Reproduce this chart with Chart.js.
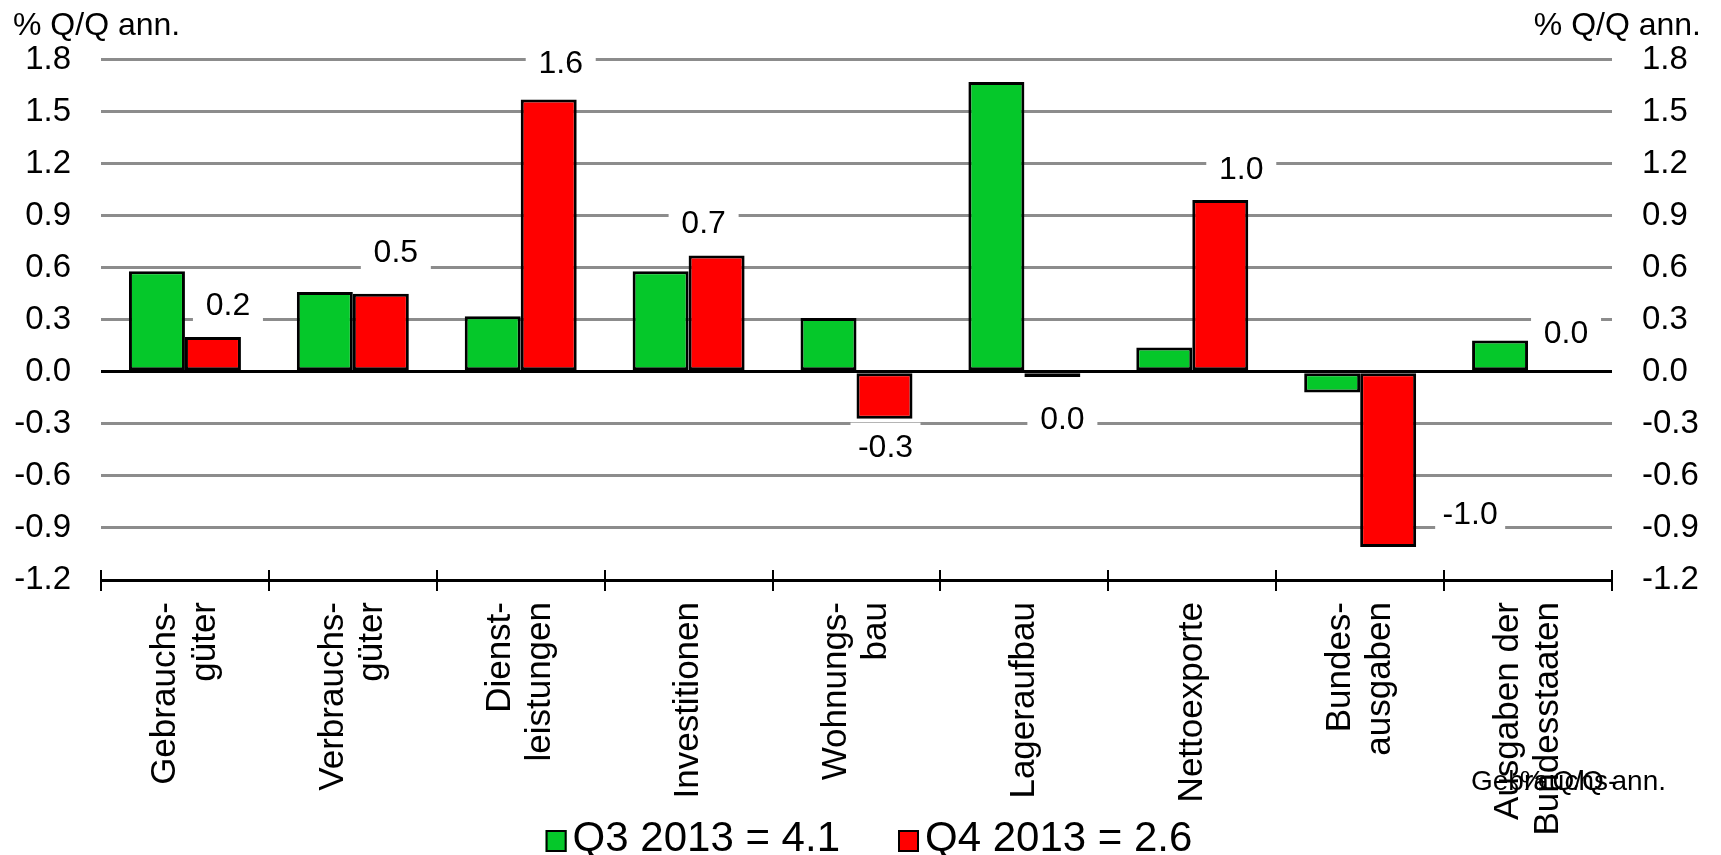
<!DOCTYPE html>
<html>
<head>
<meta charset="utf-8">
<title>BIP-Beiträge Q3/Q4 2013</title>
<script src="https://cdn.jsdelivr.net/npm/chart.js@4.4.1/dist/chart.umd.min.js"></script>
<style>
  html, body { margin: 0; padding: 0; background: #fff; }
  #wrap { width: 1721px; height: 855px; }
</style>
</head>
<body>
<div id="wrap"><canvas id="chart" width="1721" height="855"></canvas></div>
<script>
'use strict';

// categories (two-line labels are arrays)
const categories = [
	[ 'Gebrauchs-', 'güter' ],
	[ 'Verbrauchs-', 'güter' ],
	[ 'Dienst-', 'leistungen' ],
	'Investitionen',
	[ 'Wohnungs-', 'bau' ],
	'Lageraufbau',
	'Nettoexporte',
	[ 'Bundes-', 'ausgaben' ],
	[ 'Ausgaben der', 'Bundesstaaten' ]
];

const seriesNames = [ 'Q3 2013 = 4.1', 'Q4 2013 = 2.6' ];
const q3Values = [ 0.58, 0.46, 0.32, 0.58, 0.31, 1.67, 0.14, -0.12, 0.18 ];
const q4Values = [ 0.20, 0.45, 1.57, 0.67, -0.27, -0.03, 0.99, -1.01, 0.00 ];

const axisTitle = '% Q/Q ann.';
const yMin = -1.2;
const yMax = 1.8;
const yStep = 0.3;

// where each Q4 value label sits, relative to the end of its bar (px)
const labelShift = [
	[ 15, -31 ], [ 15, -41 ], [ 12, -35 ], [ -13, -31 ], [ 1, 30 ],
	[ 10, 43 ], [ 21, -30 ], [ 82, -32 ], [ 10, -38 ]
];

const FONT = '"Liberation Sans", Arial, sans-serif';
const GREEN = '#05C82A';
const RED = '#FF0000';
const GRID = '#8c8c8c';

Chart.defaults.font.family = FONT;
Chart.defaults.color = '#000';

function fmt( v ) {
	let s = Number( v ).toFixed( 1 );
	return s === '-0.0' ? '0.0' : s;
}

/**
 * Chart.js puts the first line of a rotated label on the tick,
 * shift multi-line labels so the block is centred instead
 */
const centerMultiline = {
	id: 'centerMultiline',
	beforeDraw: function( chart ) {
		let scale = chart.scales.x;
		let items = scale.getLabelItems( chart.chartArea );
		if ( items._shifted ) return;
		items.forEach( function( item ) {
			if ( Array.isArray( item.label ) && item.label.length > 1 ) {
				item.options.translation[0] -= item.font.lineHeight * ( item.label.length - 1 ) / 2;
			}
		} );
		items._shifted = true;
	}
};

/**
 * Value labels for the Q4 series, on white boxes that break the grid
 */
const valueLabels = {
	id: 'valueLabels',
	afterDatasetsDraw: function( chart ) {
		let ctx = chart.ctx;
		let bars = chart.getDatasetMeta( 1 ).data;
		ctx.save();
		ctx.font = '32px ' + FONT;
		ctx.textAlign = 'center';
		ctx.textBaseline = 'middle';
		bars.forEach( function( bar, i ) {
			let cx = bar.x + labelShift[i][0];
			let cy = bar.y + labelShift[i][1];
			ctx.fillStyle = '#fff';
			ctx.fillRect( cx - 35, cy - 26, 70, 43 );
			ctx.fillStyle = '#000';
			ctx.fillText( fmt( q4Values[i] ), cx, cy );
		} );
		ctx.restore();
	}
};

/**
 * Legend drawn by hand: the built-in one takes layout room under
 * the x axis and its labels then get clipped
 */
const bottomLegend = {
	id: 'bottomLegend',
	afterDraw: function( chart ) {
		let ctx = chart.ctx;
		let sets = chart.data.datasets;
		let gap = 6, spacing = 58, box = 21;
		ctx.save();
		ctx.font = '42px ' + FONT;
		ctx.textBaseline = 'middle';
		ctx.textAlign = 'left';
		let total = -spacing;
		sets.forEach( function( ds ) {
			total += box + gap + ctx.measureText( ds.label ).width + spacing;
		} );
		let x = 869 - total / 2;
		sets.forEach( function( ds ) {
			ctx.fillStyle = ds.backgroundColor;
			ctx.fillRect( x, 830, box, 22 );
			ctx.strokeStyle = '#000';
			ctx.lineWidth = 2;
			ctx.strokeRect( x + 1, 831, box - 2, 20 );
			ctx.fillStyle = '#000';
			ctx.fillText( ds.label, x + box + gap, 839 );
			x += box + gap + ctx.measureText( ds.label ).width + spacing;
		} );
		ctx.restore();
	}
};

/**
 * Axis titles, the little tick stubs above the x axis, and the stray
 * overlapping text that sits in the bottom right corner of the original
 */
const extras = {
	id: 'extras',
	afterDraw: function( chart ) {
		let ctx = chart.ctx;
		let area = chart.chartArea;
		let x = chart.scales.x;
		ctx.save();

		ctx.strokeStyle = '#000';
		ctx.lineWidth = 2;
		ctx.beginPath();
		for ( let i = 0; i <= categories.length; i++ ) {
			let px = Math.round( x.getPixelForValue( i - 0.5 ) );
			ctx.moveTo( px, area.bottom - 10 );
			ctx.lineTo( px, area.bottom );
		}
		ctx.stroke();

		ctx.fillStyle = '#000';
		ctx.font = '32px ' + FONT;
		ctx.textBaseline = 'alphabetic';
		ctx.textAlign = 'left';
		ctx.fillText( axisTitle, 13, 35 );
		ctx.textAlign = 'right';
		ctx.fillText( axisTitle, 1701, 35 );

		ctx.font = '28px ' + FONT;
		ctx.textAlign = 'left';
		ctx.fillText( 'Gebrauchs-', 1471, 790 );
		ctx.textAlign = 'right';
		ctx.fillText( axisTitle, 1666, 790 );
		ctx.restore();
	}
};

const tickFont = { size: 33 };

new Chart( document.getElementById( 'chart' ), {
	type: 'bar',
	data: {
		labels: categories,
		datasets: [ {
			label: seriesNames[0],
			data: q3Values,
			backgroundColor: GREEN,
			borderColor: '#000',
			borderWidth: 3,
			borderSkipped: false
		}, {
			label: seriesNames[1],
			data: q4Values,
			backgroundColor: RED,
			borderColor: '#000',
			borderWidth: 3,
			borderSkipped: false
		} ]
	},
	options: {
		responsive: false,
		animation: false,
		events: [],
		layout: { padding: { top: 59.5, bottom: 0, left: 0, right: 0 } },
		datasets: {
			bar: { categoryPercentage: 0.667, barPercentage: 1.0 }
		},
		scales: {
			x: {
				offset: true,
				grid: {
					offset: true,
					drawOnChartArea: false,
					drawTicks: true,
					tickLength: 11,
					color: '#000',
					lineWidth: 2
				},
				border: { display: true, color: '#000', width: 3 },
				ticks: {
					autoSkip: false,
					minRotation: 90,
					maxRotation: 90,
					padding: 11,
					color: '#000',
					font: { size: 35, lineHeight: 1.14 }
				},
				afterFit: function( s ) { s.height = 275; }
			},
			y: {
				min: yMin,
				max: yMax,
				ticks: {
					stepSize: yStep,
					padding: 30,
					color: '#000',
					font: tickFont,
					callback: fmt
				},
				grid: {
					drawTicks: false,
					lineWidth: 3,
					color: function( c ) {
						let v = c.tick ? c.tick.value : 1;
						return ( Math.abs( v ) < 1e-9 || v <= yMin + 1e-9 ) ? '#000' : GRID;
					}
				},
				border: { display: false },
				afterFit: function( s ) { s.width = 101; }
			},
			y2: {
				position: 'right',
				min: yMin,
				max: yMax,
				ticks: {
					stepSize: yStep,
					padding: 30,
					color: '#000',
					font: tickFont,
					callback: fmt
				},
				grid: { drawOnChartArea: false, drawTicks: false },
				border: { display: false },
				afterFit: function( s ) { s.width = 109; }
			}
		},
		plugins: {
			legend: { display: false },
			tooltip: { enabled: false },
			title: { display: false }
		}
	},
	plugins: [ centerMultiline, valueLabels, bottomLegend, extras ]
} );
</script>
</body>
</html>
